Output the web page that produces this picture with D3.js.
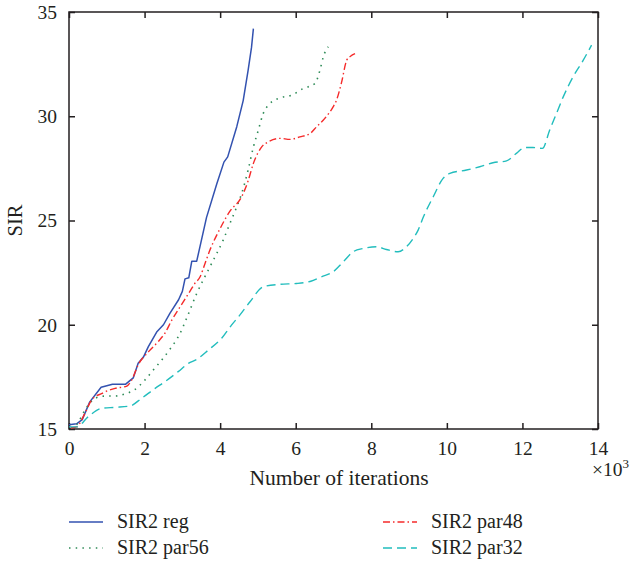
<!DOCTYPE html>
<html>
<head>
<meta charset="utf-8">
<script src="https://cdn.jsdelivr.net/npm/d3@7/dist/d3.min.js"></script>
<style>
  html, body { margin: 0; padding: 0; background: #fff; }
  text { font-family: "Liberation Serif", "Times New Roman", serif; fill: #231f20; }
</style>
</head>
<body>
<svg id="chart" width="635" height="561"></svg>
<script>
// ---- data (x in thousands of iterations, y = SIR) ----
const seriesNames = ["SIR2 reg", "SIR2 par56", "SIR2 par48", "SIR2 par32"];

const regX = [0, 0.2, 0.35, 0.55, 0.85, 1.15, 1.5, 1.7, 1.83, 1.97, 2.1, 2.32, 2.5, 2.67, 2.9, 3.0, 3.07, 3.17, 3.25, 3.38, 3.64, 3.91, 4.1, 4.2, 4.44, 4.61, 4.74, 4.83, 4.88];
const regY = [15.2, 15.25, 15.45, 16.3, 17.0, 17.15, 17.15, 17.45, 18.15, 18.45, 18.95, 19.65, 20.0, 20.55, 21.2, 21.6, 22.2, 22.25, 23.05, 23.05, 25.15, 26.75, 27.8, 28.05, 29.5, 30.75, 32.2, 33.3, 34.2];

const par56X = [0.05, 0.2, 0.42, 0.69, 0.95, 1.22, 1.48, 1.75, 2.01, 2.23, 2.45, 2.67, 2.94, 3.11, 3.38, 3.73, 4.08, 4.26, 4.44, 4.57, 4.74, 4.88, 5.01, 5.14, 5.32, 5.58, 5.89, 6.2, 6.51, 6.64, 6.73, 6.86];
const par56Y = [15.05, 15.2, 15.9, 16.47, 16.58, 16.58, 16.68, 16.9, 17.35, 17.83, 18.3, 18.82, 19.59, 20.3, 21.5, 22.78, 24.06, 24.86, 25.66, 26.3, 27.42, 28.53, 29.33, 30.13, 30.61, 30.88, 31.01, 31.33, 31.57, 32.2, 32.85, 33.33];

const par48X = [0.05, 0.2, 0.42, 0.6, 0.86, 1.22, 1.53, 1.66, 1.83, 2.1, 2.36, 2.54, 2.72, 2.94, 3.2, 3.33, 3.47, 3.6, 3.73, 4.0, 4.26, 4.57, 4.74, 4.88, 5.1, 5.27, 5.58, 5.85, 6.11, 6.38, 6.55, 6.77, 6.99, 7.08, 7.21, 7.35, 7.45, 7.57];
const par48Y = [15.05, 15.1, 15.75, 16.4, 16.7, 16.95, 17.06, 17.35, 18.07, 18.7, 19.19, 19.6, 20.22, 20.86, 21.6, 21.98, 22.3, 22.94, 23.58, 24.62, 25.45, 26.14, 26.9, 27.74, 28.53, 28.77, 28.94, 28.89, 29.01, 29.17, 29.49, 29.9, 30.45, 30.77, 31.6, 32.69, 32.88, 33.0];

const par32X = [0, 0.2, 0.51, 0.86, 1.22, 1.61, 1.92, 2.28, 2.54, 2.89, 3.16, 3.38, 3.69, 4.04, 4.3, 4.52, 4.79, 5.14, 5.58, 6.02, 6.42, 6.68, 6.99, 7.26, 7.52, 7.79, 8.14, 8.4, 8.71, 8.93, 9.11, 9.24, 9.38, 9.64, 9.9, 10.08, 10.52, 10.87, 11.22, 11.58, 11.84, 12.06, 12.28, 12.53, 12.72, 12.9, 13.08, 13.34, 13.61, 13.83];
const par32Y = [15.1, 15.1, 15.59, 15.99, 16.04, 16.1, 16.47, 16.95, 17.27, 17.75, 18.15, 18.34, 18.79, 19.35, 19.98, 20.46, 21.1, 21.82, 21.94, 21.98, 22.1, 22.3, 22.54, 23.02, 23.5, 23.66, 23.74, 23.61, 23.5, 23.74, 24.14, 24.54, 25.18, 26.14, 27.02, 27.26, 27.42, 27.58, 27.77, 27.86, 28.22, 28.5, 28.5, 28.46, 29.33, 30.13, 30.93, 31.89, 32.69, 33.41];

const xTicks = [0, 2, 4, 6, 8, 10, 12, 14];
const yTicks = [15, 20, 25, 30, 35];

// ---- layout ----
const svg = d3.select("#chart");
const L = 69, R = 598, T = 12, B = 429;
const x = d3.scaleLinear().domain([0, 14]).range([L, R]);
const y = d3.scaleLinear().domain([15, 35]).range([B, T]);

const styles = [
  { color: "#3352b0", dash: null, width: 1.5 },
  { color: "#2e8b57", dash: "1.5,5.2", width: 1.6 },
  { color: "#f52a2a", dash: "7,3,1.5,3", width: 1.4 },
  { color: "#22bdbd", dash: "9,5", width: 1.4 }
];
const xs = [regX, par56X, par48X, par32X];
const ys = [regY, par56Y, par48Y, par32Y];

// frame
svg.append("rect").attr("x", L).attr("y", T).attr("width", R - L).attr("height", B - T)
  .attr("fill", "none").attr("stroke", "#231f20").attr("stroke-width", 1.5);

// axes with inward ticks
const tk = 6;
svg.append("g").attr("transform", `translate(0,${B})`)
  .call(d3.axisBottom(x).tickValues(xTicks).tickSize(-tk).tickPadding(12).tickFormat(d3.format("d")))
  .call(g => { g.select(".domain").remove(); g.selectAll("line").attr("stroke", "#231f20").attr("stroke-width", 1.5);
               g.selectAll("text").attr("font-size", 19.5).attr("font-family", "Liberation Serif").attr("fill", "#231f20").attr("dy", "0.71em"); });
svg.append("g").attr("transform", `translate(0,${T})`)
  .call(d3.axisTop(x).tickValues(xTicks).tickSize(-tk).tickFormat(""))
  .call(g => { g.select(".domain").remove(); g.selectAll("line").attr("stroke", "#231f20").attr("stroke-width", 1.5); });
svg.append("g").attr("transform", `translate(${L},0)`)
  .call(d3.axisLeft(y).tickValues(yTicks).tickSize(-tk).tickPadding(12).tickFormat(d3.format("d")))
  .call(g => { g.select(".domain").remove(); g.selectAll("line").attr("stroke", "#231f20").attr("stroke-width", 1.5);
               g.selectAll("text").attr("font-size", 19.5).attr("font-family", "Liberation Serif").attr("fill", "#231f20"); });
svg.append("g").attr("transform", `translate(${R},0)`)
  .call(d3.axisRight(y).tickValues(yTicks).tickSize(-tk).tickFormat(""))
  .call(g => { g.select(".domain").remove(); g.selectAll("line").attr("stroke", "#231f20").attr("stroke-width", 1.5); });

// axis labels
svg.append("text").attr("x", 339).attr("y", 485).attr("text-anchor", "middle")
  .attr("font-size", 21.5).text("Number of iterations");
svg.append("text").attr("transform", `translate(22,${(T + B) / 2}) rotate(-90)`)
  .attr("text-anchor", "middle").attr("font-size", 20.5).text("SIR");
const mult = svg.append("text").attr("x", 592).attr("y", 476).attr("font-size", 19.5);
mult.append("tspan").text("×10");
mult.append("tspan").attr("font-size", 13).attr("dy", -8).text("3");

// lines
const line = d3.line().x(d => x(d[0])).y(d => y(d[1])).curve(d3.curveMonotoneX);
xs.forEach((xv, i) => {
  const pts = xv.map((v, j) => [v, ys[i][j]]);
  svg.append("path").datum(pts)
    .attr("d", i === 0 ? d3.line().x(d => x(d[0])).y(d => y(d[1]))(pts) : line(pts))
    .attr("fill", "none").attr("stroke", styles[i].color)
    .attr("stroke-width", styles[i].width)
    .attr("stroke-dasharray", styles[i].dash)
    .attr("stroke-linejoin", "round");
});

// legend
const legendPos = [
  { lx: 69, ly: 522 }, { lx: 69, ly: 548 },
  { lx: 383, ly: 522 }, { lx: 383, ly: 548 }
];
seriesNames.forEach((name, i) => {
  const p = legendPos[i];
  svg.append("line").attr("x1", p.lx).attr("x2", p.lx + 34).attr("y1", p.ly).attr("y2", p.ly)
    .attr("stroke", styles[i].color).attr("stroke-width", styles[i].width)
    .attr("stroke-dasharray", styles[i].dash);
  svg.append("text").attr("x", p.lx + 48).attr("y", p.ly + 6).attr("font-size", 20).text(name);
});
</script>
</body>
</html>
